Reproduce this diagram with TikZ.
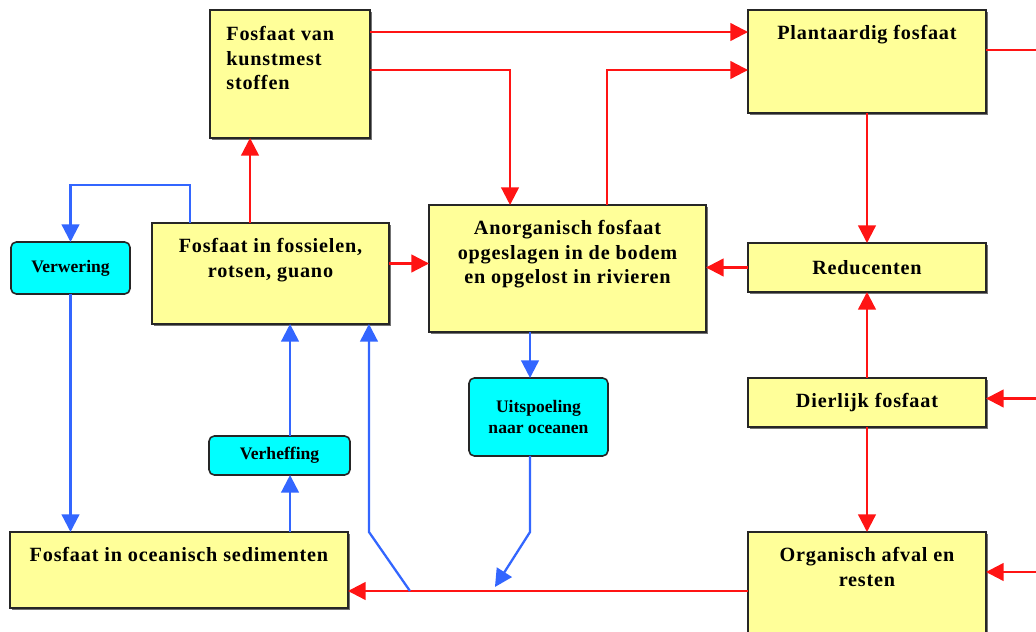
\documentclass[tikz,border=0pt]{standalone}
\usepackage{fontspec}
\setmainfont{Liberation Serif}
\newfontfamily\poolfont{Liberation Serif}[LetterSpace=4]
\usepackage{tikz}
\usetikzlibrary{arrows.meta, positioning, calc, shadows}
\definecolor{boxyellow}{RGB}{255, 255, 153}
\definecolor{procyan}{RGB}{0, 255, 255}
\definecolor{flowred}{RGB}{255, 20, 20}
\definecolor{flowblue}{RGB}{51, 102, 255}

\begin{document}
\begin{tikzpicture}[
    x=0.02cm, y=0.02cm,
    pool/.style={draw=black!85, line width=1pt, fill=boxyellow, inner sep=0pt, outer sep=0pt, font=\poolfont\fontsize{11.5}{14}\selectfont\bfseries, drop shadow={shadow xshift=1pt, shadow yshift=-1pt, fill=black!55, opacity=1}},
    proc/.style={draw=black!85, line width=0.9pt, fill=procyan, rounded corners=3pt, inner sep=0pt, outer sep=0pt, align=center, font=\fontsize{10}{11.5}\selectfont\bfseries},
    lbl/.style={align=center, inner sep=0pt, font=\poolfont\fontsize{11.5}{14}\selectfont\bfseries},
    redarr/.style={-{Triangle[length=10pt, width=10pt]}, line width=1.3pt, color=flowred},
    bluearr/.style={-{Triangle[length=10pt, width=10pt]}, line width=1.3pt, color=flowblue}
]
    \clip (0,0) rectangle (1036,632);

    % Pools
    \node[pool, minimum width=3.2cm, minimum height=2.56cm] (kunst) at (290, 558) {};
    \node[lbl, align=left, anchor=north west] (kunstT) at ($(kunst.north west)+(16,-16)$) {Fosfaat van\\kunstmest\\stoffen};
    \node[pool, minimum width=4.76cm, minimum height=2.06cm] (plant) at (867, 570.5) {};
    \node[lbl, below=0.3cm of plant.north] (plantT) {Plantaardig fosfaat};
    \node[pool, minimum width=4.74cm, minimum height=2.02cm] (fossiel) at (270.5, 358.5) {};
    \node[lbl, below=0.3cm of fossiel.north] (fossielT) {Fosfaat in fossielen,\\rotsen, guano};
    \node[pool, minimum width=5.54cm, minimum height=2.54cm] (anorg) at (567.5, 363.5) {};
    \node[lbl, below=0.3cm of anorg.north] (anorgT) {Anorganisch fosfaat\\opgeslagen in de bodem\\en opgelost in rivieren};
    \node[pool, minimum width=4.76cm, minimum height=0.98cm] (reduc) at (867, 364.5) {Reducenten};
    \node[pool, minimum width=4.76cm, minimum height=0.98cm] (dier) at (867, 229.5) {Dierlijk fosfaat};
    \node[pool, minimum width=4.76cm, minimum height=2.16cm] (organ) at (867, 46) {};
    \node[lbl, below=0.3cm of organ.north] (organT) {Organisch afval en\\resten};
    \node[pool, minimum width=6.76cm, minimum height=1.52cm] (ocean) at (179, 62) {};
    \node[lbl, below=0.3cm of ocean.north] (oceanT) {Fosfaat in oceanisch sedimenten};

    % Processes
    \node[proc, minimum width=2.38cm, minimum height=1.04cm] (verw) at (70.5, 364) {Verwering};
    \node[proc, minimum width=2.82cm, minimum height=0.78cm] (verh) at (279.5, 176.5) {Verheffing};
    \node[proc, minimum width=2.78cm, minimum height=1.56cm] (uit) at (538.5, 215) {Uitspoeling\\naar oceanen};

    % Red flows
    \draw[redarr] ($(kunst.north east)+(0,-22)$) coordinate (k1) -- (k1 -| plant.west);
    \draw[redarr] ($(kunst.north east)+(0,-60)$) -| ($(anorg.north west)+(81,0)$);
    \draw[redarr] ($(anorg.north west)+(178,0)$) |- ($(plant.north west)+(0,-60)$);
    \draw[redarr] (plant.south) -- (reduc.north);
    \draw[line width=1.3pt, color=flowred] ($(plant.north east)+(0,-40)$) -- ++(60,0);
    \draw[redarr] (reduc.west) -- (reduc.west -| anorg.east);
    \draw[redarr] ($(fossiel.north west)+(98,0)$) coordinate (f1) -- (f1 |- kunst.south);
    \draw[redarr] ($(fossiel.east)+(0,10)$) coordinate (f2) -- (f2 -| anorg.west);
    \draw[redarr] (dier.north) -- (reduc.south);
    \draw[redarr] (dier.south) -- (organ.north);
    \coordinate (inD) at ($(dier.east)+(60,4)$);
    \draw[redarr] (inD) -- (inD -| dier.east);
    \coordinate (inO) at ($(organ.east)+(60,14)$);
    \draw[redarr] (inO) -- (inO -| organ.east);
    \draw[redarr] ($(organ.west)+(0,-5)$) coordinate (o1) -- (o1 -| ocean.east);

    % Blue flows
    \draw[bluearr] ($(fossiel.north west)+(38,0)$) |- ($(verw.north)+(0,57)$) -- (verw.north);
    \draw[bluearr] (verw.south) -- (verw.south |- ocean.north);
    \draw[bluearr] ($(ocean.north west)+(280,0)$) coordinate (v1) -- (v1 |- verh.south);
    \draw[bluearr] (v1 |- verh.north) -- (v1 |- fossiel.south);
    \draw[bluearr] ($(ocean.south east)+(62,17)$) -- ($(fossiel.south east)+(-20,-208)$) -- ($(fossiel.south east)+(-20,0)$);
    \draw[bluearr] ($(anorg.south west)+(101,0)$) coordinate (a1) -- (a1 |- uit.north);
    \draw[bluearr] (a1 |- uit.south) -- (a1 |- ocean.north) -- ($(ocean.south east)+(147,21)$);
\end{tikzpicture}
\end{document}
